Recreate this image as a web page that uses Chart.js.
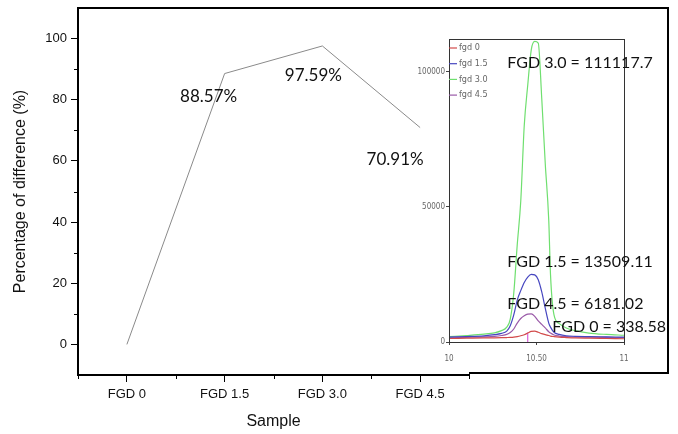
<!DOCTYPE html>
<html>
<head>
<meta charset="utf-8">
<script src="https://cdn.jsdelivr.net/npm/chart.js@4.4.1/dist/chart.umd.min.js"></script>
<style>
  html, body { margin: 0; padding: 0; background: #fff; }
  #wrap { position: relative; width: 678px; height: 434px; }
  #main { position: absolute; left: 0; top: 0; }
  #inset { position: absolute; left: 410px; top: 7px; }
</style>
</head>
<body>
<div id="wrap">
  <canvas id="main" width="678" height="434"></canvas>
  <canvas id="inset" width="260" height="368"></canvas>
</div>
<script>
// main chart data
const samples = ['FGD 0', 'FGD 1.5', 'FGD 3.0', 'FGD 4.5'];
const differencePct = [0, 88.57, 97.59, 70.91];
const pctTicks = [0, 20, 40, 60, 80, 100];
const pctMinorTicks = [10, 30, 50, 70, 90];
const sampleMinorTicks = [-0.5, 0.5, 1.5, 2.5, 3.5];

// inset chromatogram data
const retention = [10.00, 10.10, 10.20, 10.26, 10.30, 10.33, 10.35, 10.37, 10.39, 10.41, 10.43, 10.45, 10.47,
                   10.49, 10.51, 10.53, 10.55, 10.57, 10.58, 10.60, 10.63, 10.67, 10.72, 10.80, 10.90, 11.00];
const fgd0Signal  = [1300, 1400, 1500, 1550, 1600, 1650, 1700, 1800, 2000, 2300, 2700, 3300, 3900,
                     4000, 3600, 3100, 2700, 2400, 2200, 2000, 1800, 1650, 1500, 1400, 1300, 1200];
const fgd15Signal = [1800, 2000, 2300, 2700, 3200, 4000, 6000, 10000, 15500, 19000, 22000, 24000, 25000,
                     24800, 23000, 18500, 12500, 7000, 5500, 3600, 2800, 2300, 2100, 2000, 1900, 1800];
const fgd30Signal = [2000, 2400, 2900, 3400, 4200, 5500, 8500, 18000, 36000, 52000, 80000, 95000, 108000,
                     111100, 110500, 90000, 66000, 45000, 25000, 10000, 6800, 5200, 4200, 3300, 2800, 2500];
const fgd45Signal = [1500, 1700, 1900, 2100, 2400, 2800, 3500, 4800, 7000, 8700, 9700, 10300, 10400,
                     9500, 7800, 6500, 5200, 3800, 3300, 2600, 2200, 2000, 1900, 1800, 1700, 1600];
const markerRt = 10.45;
const markerTop = 3500;
const peakAreas = [338.58, 13509.11, 111117.7, 6181.02];
const insetYTicks = [0, 50000, 100000];
const insetXTicks = [10, 10.5, 11];

const tickFont = "'Liberation Sans', Arial, sans-serif";
const noteFont = "Lato, 'Open Sans', sans-serif";
const tinyFont = "'Liberation Sans Narrow', 'DejaVu Sans Condensed', sans-serif";

// where the % labels sit relative to their points (px)
const pctNoteOffsets = [null, [-16, 23], [-9, 30], [-25, 32]];

const insetCanvas = document.getElementById('inset');

const mainExtras = {
  id: 'mainExtras',
  afterDraw(chart) {
    const {ctx, chartArea: a, scales: {x, y}} = chart;
    // outer frame reaches the right edge of the inset box
    const frameRight = insetCanvas.offsetLeft + insetCanvas.width - 2;
    ctx.save();
    ctx.strokeStyle = '#000';
    ctx.lineWidth = 2;
    ctx.beginPath();
    ctx.moveTo(a.left, a.top);
    ctx.lineTo(frameRight, a.top);
    ctx.lineTo(frameRight, a.bottom - 2);
    ctx.lineTo(a.right, a.bottom - 2);
    ctx.stroke();
    // minor ticks
    ctx.lineWidth = 1;
    ctx.beginPath();
    pctMinorTicks.forEach(v => {
      const py = Math.round(y.getPixelForValue(v)) + 0.5;
      ctx.moveTo(a.left - 4, py);
      ctx.lineTo(a.left, py);
    });
    sampleMinorTicks.forEach(v => {
      const px = Math.round(x.getPixelForValue(v)) + 0.5;
      ctx.moveTo(px, a.bottom);
      ctx.lineTo(px, a.bottom + 4);
    });
    ctx.stroke();
    // value labels
    ctx.fillStyle = '#111';
    ctx.font = '17px ' + noteFont;
    ctx.textAlign = 'center';
    ctx.textBaseline = 'middle';
    differencePct.forEach((v, i) => {
      const off = pctNoteOffsets[i];
      if (!off) return;
      ctx.fillText(v.toFixed(2) + '%', x.getPixelForValue(i) + off[0], y.getPixelForValue(v) + off[1]);
    });
    ctx.restore();
  }
};

new Chart(document.getElementById('main'), {
  type: 'line',
  data: {
    datasets: [{
      data: differencePct.map((v, i) => ({x: i, y: v})),
      borderColor: '#8a8a8a',
      borderWidth: 1,
      pointRadius: 0,
      tension: 0,
      fill: false
    }]
  },
  options: {
    responsive: false,
    animation: false,
    layout: { padding: { left: 0, right: 209, top: 8, bottom: 0 } },
    plugins: { legend: { display: false }, tooltip: { enabled: false } },
    scales: {
      x: {
        type: 'linear', min: -0.5, max: 3.5,
        afterBuildTicks: s => { s.ticks = samples.map((_, i) => ({value: i})); },
        afterFit: s => { s.height = 59; s.paddingLeft = 0; s.paddingRight = 0; },
        ticks: { callback: v => samples[v], font: { family: tickFont, size: 13 }, color: '#111', padding: 5, maxRotation: 0, autoSkip: false },
        grid: { drawOnChartArea: false, tickLength: 7, tickColor: '#000', lineWidth: 1 },
        border: { display: true, color: '#000', width: 2 },
        title: { display: true, text: 'Sample', color: '#111', font: { family: tickFont, size: 16 }, padding: { top: 0, bottom: 3 } }
      },
      y: {
        type: 'linear', min: -10, max: 110,
        afterBuildTicks: s => { s.ticks = pctTicks.map(v => ({value: v})); },
        afterFit: s => { s.width = 78; s.paddingTop = 0; s.paddingBottom = 0; },
        ticks: { font: { family: tickFont, size: 13 }, color: '#111', padding: 4 },
        grid: { drawOnChartArea: false, tickLength: 7, tickColor: '#000', lineWidth: 1 },
        border: { display: true, color: '#000', width: 2 },
        title: { display: true, text: 'Percentage of difference (%)', color: '#111', font: { family: tickFont, size: 16 }, padding: { top: 11, bottom: 0 } }
      }
    }
  },
  plugins: [mainExtras]
});

// ---- inset ----
const insetSeries = [
  { label: 'fgd 0', values: fgd0Signal, color: '#d24b4b' },
  { label: 'fgd 1.5', values: fgd15Signal, color: '#4646c0' },
  { label: 'fgd 3.0', values: fgd30Signal, color: '#6fdf6f' },
  { label: 'fgd 4.5', values: fgd45Signal, color: '#9a5aa8' }
];
// left edge / middle of each peak-area note, in inset data units
const noteAnchors = [[10.59, 5550], [10.333, 29600], [10.333, 103300], [10.333, 14100]];

const insetExtras = {
  id: 'insetExtras',
  afterDraw(chart) {
    const {ctx, chartArea: a, scales: {x, y}} = chart;
    ctx.save();
    // plot box
    ctx.strokeStyle = '#333';
    ctx.lineWidth = 1;
    ctx.strokeRect(Math.round(a.left) + 0.5, Math.round(a.top) + 0.5, Math.round(a.right - a.left), Math.round(a.bottom - a.top));
    // legend
    ctx.lineWidth = 1.2;
    ctx.font = '9px ' + tinyFont;
    ctx.textBaseline = 'middle';
    ctx.textAlign = 'left';
    insetSeries.forEach((s, i) => {
      const ly = a.top + 9 + i * 15.7;
      ctx.strokeStyle = s.color;
      ctx.beginPath();
      ctx.moveTo(a.left, ly);
      ctx.lineTo(a.left + 8, ly);
      ctx.stroke();
      ctx.fillStyle = '#666';
      ctx.fillText(s.label, a.left + 10, ly);
    });
    // peak-area notes
    ctx.fillStyle = '#111';
    ctx.font = '16px ' + noteFont;
    insetSeries.forEach((s, i) => {
      const [nx, ny] = noteAnchors[i];
      ctx.fillText(samples[i] + ' = ' + peakAreas[i], x.getPixelForValue(nx), y.getPixelForValue(ny));
    });
    ctx.restore();
  }
};

const insetDatasets = insetSeries.map(s => ({
  label: s.label,
  data: retention.map((t, i) => ({x: t, y: s.values[i]})),
  borderColor: s.color,
  borderWidth: 1.2,
  pointRadius: 0,
  cubicInterpolationMode: 'monotone',
  fill: false
}));
insetDatasets.push({
  label: '',
  data: [{x: markerRt, y: 0}, {x: markerRt, y: markerTop}],
  borderColor: '#d040d0',
  borderWidth: 1,
  pointRadius: 0
});

new Chart(insetCanvas, {
  type: 'line',
  data: { datasets: insetDatasets },
  options: {
    responsive: false,
    animation: false,
    layout: { padding: { left: 0, right: 46, top: 32, bottom: 0 } },
    plugins: { legend: { display: false }, tooltip: { enabled: false } },
    scales: {
      x: {
        type: 'linear', min: 10, max: 11,
        afterBuildTicks: s => { s.ticks = insetXTicks.map(v => ({value: v})); },
        afterFit: s => { s.height = 33; s.paddingLeft = 0; s.paddingRight = 0; },
        ticks: { callback: v => (v === 10.5 ? '10.50' : String(v)), font: { family: tinyFont, size: 8 }, color: '#666', padding: 9, maxRotation: 0, autoSkip: false },
        grid: { drawOnChartArea: false, tickLength: 3, tickColor: '#444', lineWidth: 1 },
        border: { display: false }
      },
      y: {
        type: 'linear', min: 0, max: 112000,
        afterBuildTicks: s => { s.ticks = insetYTicks.map(v => ({value: v})); },
        afterFit: s => { s.width = 39; s.paddingTop = 0; s.paddingBottom = 0; },
        ticks: { callback: v => String(v), font: { family: tinyFont, size: 8 }, color: '#666', padding: 1 },
        grid: { drawOnChartArea: false, tickLength: 3, tickColor: '#444', lineWidth: 1 },
        border: { display: false }
      }
    }
  },
  plugins: [insetExtras]
});
</script>
</body>
</html>
